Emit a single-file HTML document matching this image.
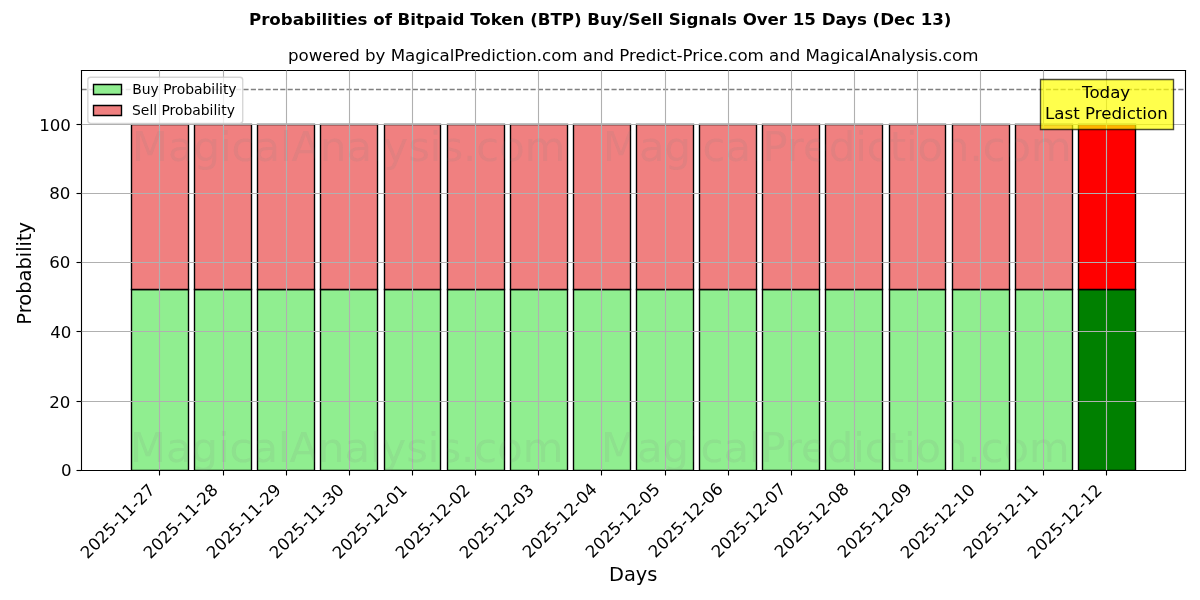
<!DOCTYPE html>
<html><head><meta charset="utf-8"><title>Probabilities of Bitpaid Token (BTP) Buy/Sell Signals</title>
<style>html,body{margin:0;padding:0;background:#fff;width:1200px;height:600px;overflow:hidden}svg{display:block;will-change:transform}</style>
</head><body>
<svg width="1200" height="600" viewBox="0 0 864 432">
<defs>
<style type="text/css">*{stroke-linejoin: round; stroke-linecap: butt}</style>
</defs>
<g id="figure_1">
<g id="patch_1">
<path d="M 0 432 L 864 432 L 864 0 L 0 0 z" style="fill: #ffffff"/>
</g>
<g id="axes_1">
<g id="patch_2">
<path d="M 58.32 338.4 L 853.2 338.4 L 853.2 50.4 L 58.32 50.4 z" style="fill: #ffffff"/>
</g>
<g id="patch_3">
<path d="M 94.68 338.76 L 135.72 338.76 L 135.72 208.44 L 94.68 208.44 z" clip-path="url(#pb0aa5b474b)" style="fill: #90ee90; stroke: #000000; stroke-linejoin: miter"/>
</g>
<g id="patch_4">
<path d="M 140.04 338.76 L 181.08 338.76 L 181.08 208.44 L 140.04 208.44 z" clip-path="url(#pb0aa5b474b)" style="fill: #90ee90; stroke: #000000; stroke-linejoin: miter"/>
</g>
<g id="patch_5">
<path d="M 185.4 338.76 L 226.44 338.76 L 226.44 208.44 L 185.4 208.44 z" clip-path="url(#pb0aa5b474b)" style="fill: #90ee90; stroke: #000000; stroke-linejoin: miter"/>
</g>
<g id="patch_6">
<path d="M 230.76 338.76 L 271.8 338.76 L 271.8 208.44 L 230.76 208.44 z" clip-path="url(#pb0aa5b474b)" style="fill: #90ee90; stroke: #000000; stroke-linejoin: miter"/>
</g>
<g id="patch_7">
<path d="M 276.84 338.76 L 317.16 338.76 L 317.16 208.44 L 276.84 208.44 z" clip-path="url(#pb0aa5b474b)" style="fill: #90ee90; stroke: #000000; stroke-linejoin: miter"/>
</g>
<g id="patch_8">
<path d="M 322.2 338.76 L 363.24 338.76 L 363.24 208.44 L 322.2 208.44 z" clip-path="url(#pb0aa5b474b)" style="fill: #90ee90; stroke: #000000; stroke-linejoin: miter"/>
</g>
<g id="patch_9">
<path d="M 367.56 338.76 L 408.6 338.76 L 408.6 208.44 L 367.56 208.44 z" clip-path="url(#pb0aa5b474b)" style="fill: #90ee90; stroke: #000000; stroke-linejoin: miter"/>
</g>
<g id="patch_10">
<path d="M 412.92 338.76 L 453.96 338.76 L 453.96 208.44 L 412.92 208.44 z" clip-path="url(#pb0aa5b474b)" style="fill: #90ee90; stroke: #000000; stroke-linejoin: miter"/>
</g>
<g id="patch_11">
<path d="M 458.28 338.76 L 499.32 338.76 L 499.32 208.44 L 458.28 208.44 z" clip-path="url(#pb0aa5b474b)" style="fill: #90ee90; stroke: #000000; stroke-linejoin: miter"/>
</g>
<g id="patch_12">
<path d="M 503.64 338.76 L 544.68 338.76 L 544.68 208.44 L 503.64 208.44 z" clip-path="url(#pb0aa5b474b)" style="fill: #90ee90; stroke: #000000; stroke-linejoin: miter"/>
</g>
<g id="patch_13">
<path d="M 549 338.76 L 590.04 338.76 L 590.04 208.44 L 549 208.44 z" clip-path="url(#pb0aa5b474b)" style="fill: #90ee90; stroke: #000000; stroke-linejoin: miter"/>
</g>
<g id="patch_14">
<path d="M 594.36 338.76 L 635.4 338.76 L 635.4 208.44 L 594.36 208.44 z" clip-path="url(#pb0aa5b474b)" style="fill: #90ee90; stroke: #000000; stroke-linejoin: miter"/>
</g>
<g id="patch_15">
<path d="M 640.44 338.76 L 680.76 338.76 L 680.76 208.44 L 640.44 208.44 z" clip-path="url(#pb0aa5b474b)" style="fill: #90ee90; stroke: #000000; stroke-linejoin: miter"/>
</g>
<g id="patch_16">
<path d="M 685.8 338.76 L 726.84 338.76 L 726.84 208.44 L 685.8 208.44 z" clip-path="url(#pb0aa5b474b)" style="fill: #90ee90; stroke: #000000; stroke-linejoin: miter"/>
</g>
<g id="patch_17">
<path d="M 731.16 338.76 L 772.2 338.76 L 772.2 208.44 L 731.16 208.44 z" clip-path="url(#pb0aa5b474b)" style="fill: #90ee90; stroke: #000000; stroke-linejoin: miter"/>
</g>
<g id="patch_18">
<path d="M 776.52 338.76 L 817.56 338.76 L 817.56 208.44 L 776.52 208.44 z" clip-path="url(#pb0aa5b474b)" style="fill: #008000; stroke: #000000; stroke-linejoin: miter"/>
</g>
<g id="patch_19">
<path d="M 94.68 208.44 L 135.72 208.44 L 135.72 89.64 L 94.68 89.64 z" clip-path="url(#pb0aa5b474b)" style="fill: #f08080; stroke: #000000; stroke-linejoin: miter"/>
</g>
<g id="patch_20">
<path d="M 140.04 208.44 L 181.08 208.44 L 181.08 89.64 L 140.04 89.64 z" clip-path="url(#pb0aa5b474b)" style="fill: #f08080; stroke: #000000; stroke-linejoin: miter"/>
</g>
<g id="patch_21">
<path d="M 185.4 208.44 L 226.44 208.44 L 226.44 89.64 L 185.4 89.64 z" clip-path="url(#pb0aa5b474b)" style="fill: #f08080; stroke: #000000; stroke-linejoin: miter"/>
</g>
<g id="patch_22">
<path d="M 230.76 208.44 L 271.8 208.44 L 271.8 89.64 L 230.76 89.64 z" clip-path="url(#pb0aa5b474b)" style="fill: #f08080; stroke: #000000; stroke-linejoin: miter"/>
</g>
<g id="patch_23">
<path d="M 276.84 208.44 L 317.16 208.44 L 317.16 89.64 L 276.84 89.64 z" clip-path="url(#pb0aa5b474b)" style="fill: #f08080; stroke: #000000; stroke-linejoin: miter"/>
</g>
<g id="patch_24">
<path d="M 322.2 208.44 L 363.24 208.44 L 363.24 89.64 L 322.2 89.64 z" clip-path="url(#pb0aa5b474b)" style="fill: #f08080; stroke: #000000; stroke-linejoin: miter"/>
</g>
<g id="patch_25">
<path d="M 367.56 208.44 L 408.6 208.44 L 408.6 89.64 L 367.56 89.64 z" clip-path="url(#pb0aa5b474b)" style="fill: #f08080; stroke: #000000; stroke-linejoin: miter"/>
</g>
<g id="patch_26">
<path d="M 412.92 208.44 L 453.96 208.44 L 453.96 89.64 L 412.92 89.64 z" clip-path="url(#pb0aa5b474b)" style="fill: #f08080; stroke: #000000; stroke-linejoin: miter"/>
</g>
<g id="patch_27">
<path d="M 458.28 208.44 L 499.32 208.44 L 499.32 89.64 L 458.28 89.64 z" clip-path="url(#pb0aa5b474b)" style="fill: #f08080; stroke: #000000; stroke-linejoin: miter"/>
</g>
<g id="patch_28">
<path d="M 503.64 208.44 L 544.68 208.44 L 544.68 89.64 L 503.64 89.64 z" clip-path="url(#pb0aa5b474b)" style="fill: #f08080; stroke: #000000; stroke-linejoin: miter"/>
</g>
<g id="patch_29">
<path d="M 549 208.44 L 590.04 208.44 L 590.04 89.64 L 549 89.64 z" clip-path="url(#pb0aa5b474b)" style="fill: #f08080; stroke: #000000; stroke-linejoin: miter"/>
</g>
<g id="patch_30">
<path d="M 594.36 208.44 L 635.4 208.44 L 635.4 89.64 L 594.36 89.64 z" clip-path="url(#pb0aa5b474b)" style="fill: #f08080; stroke: #000000; stroke-linejoin: miter"/>
</g>
<g id="patch_31">
<path d="M 640.44 208.44 L 680.76 208.44 L 680.76 89.64 L 640.44 89.64 z" clip-path="url(#pb0aa5b474b)" style="fill: #f08080; stroke: #000000; stroke-linejoin: miter"/>
</g>
<g id="patch_32">
<path d="M 685.8 208.44 L 726.84 208.44 L 726.84 89.64 L 685.8 89.64 z" clip-path="url(#pb0aa5b474b)" style="fill: #f08080; stroke: #000000; stroke-linejoin: miter"/>
</g>
<g id="patch_33">
<path d="M 731.16 208.44 L 772.2 208.44 L 772.2 89.64 L 731.16 89.64 z" clip-path="url(#pb0aa5b474b)" style="fill: #f08080; stroke: #000000; stroke-linejoin: miter"/>
</g>
<g id="patch_34">
<path d="M 776.52 208.44 L 817.56 208.44 L 817.56 89.64 L 776.52 89.64 z" clip-path="url(#pb0aa5b474b)" style="fill: #ff0000; stroke: #000000; stroke-linejoin: miter"/>
</g>
<g id="line2d_1">
<path d="M 58.68 64.44 L 853.56 64.44" clip-path="url(#pb0aa5b474b)" style="fill: none; stroke-dasharray: 3.7,1.6; stroke-dashoffset: 0; stroke: #808080"/>
</g>
<g id="patch_35">
<path d="M 58.68 338.76 L 58.68 50.76" style="fill: none; stroke: #000000; stroke-width: 0.8; stroke-linejoin: miter; stroke-linecap: square"/>
</g>
<g id="patch_36">
<path d="M 853.56 338.76 L 853.56 50.76" style="fill: none; stroke: #000000; stroke-width: 0.8; stroke-linejoin: miter; stroke-linecap: square"/>
</g>
<g id="patch_37">
<path d="M 58.68 338.76 L 853.56 338.76" style="fill: none; stroke: #000000; stroke-width: 0.8; stroke-linejoin: miter; stroke-linecap: square"/>
</g>
<g id="patch_38">
<path d="M 58.68 50.76 L 853.56 50.76" style="fill: none; stroke: #000000; stroke-width: 0.8; stroke-linejoin: miter; stroke-linecap: square"/>
</g>
<g id="matplotlib.axis_1">
<g id="xtick_1">
<g id="line2d_2">
<path d="M 114.84 338.76 L 114.84 50.76" clip-path="url(#pb0aa5b474b)" style="fill: none; stroke: #b0b0b0; stroke-width: 0.8; stroke-linecap: butt"/>
</g>
<g id="line2d_3">
<defs>
<path id="m1504cfccaf" d="M 0.36 0.36 L 0.36 3.96" style="stroke: #000000; stroke-width: 0.8"/>
</defs>
<g>
<use href="#m1504cfccaf" x="114.48" y="338.4" style="stroke: #000000; stroke-width: 0.8"/>
</g>
</g>
<g id="text_1">
<g transform="translate(-0.72 1.8)"><text style="font-size: 12px; font-family: 'DejaVu Sans', 'Liberation Sans', sans-serif" transform="translate(63.759934 400.986348) rotate(-45)">2025-11-27</text></g>
</g>
</g>
<g id="xtick_2">
<g id="line2d_4">
<path d="M 160.92 338.76 L 160.92 50.76" clip-path="url(#pb0aa5b474b)" style="fill: none; stroke: #b0b0b0; stroke-width: 0.8; stroke-linecap: butt"/>
</g>
<g id="line2d_5">
<g>
<use href="#m1504cfccaf" x="160.56" y="338.4" style="stroke: #000000; stroke-width: 0.8"/>
</g>
</g>
<g id="text_2">
<g transform="translate(-0.9 1.8)"><text style="font-size: 12px; font-family: 'DejaVu Sans', 'Liberation Sans', sans-serif" transform="translate(109.21162 400.986348) rotate(-45)">2025-11-28</text></g>
</g>
</g>
<g id="xtick_3">
<g id="line2d_6">
<path d="M 206.28 338.76 L 206.28 50.76" clip-path="url(#pb0aa5b474b)" style="fill: none; stroke: #b0b0b0; stroke-width: 0.8; stroke-linecap: butt"/>
</g>
<g id="line2d_7">
<g>
<use href="#m1504cfccaf" x="205.92" y="338.4" style="stroke: #000000; stroke-width: 0.8"/>
</g>
</g>
<g id="text_3">
<g transform="translate(-0.9 1.8)"><text style="font-size: 12px; font-family: 'DejaVu Sans', 'Liberation Sans', sans-serif" transform="translate(154.663307 400.986348) rotate(-45)">2025-11-29</text></g>
</g>
</g>
<g id="xtick_4">
<g id="line2d_8">
<path d="M 251.64 338.76 L 251.64 50.76" clip-path="url(#pb0aa5b474b)" style="fill: none; stroke: #b0b0b0; stroke-width: 0.8; stroke-linecap: butt"/>
</g>
<g id="line2d_9">
<g>
<use href="#m1504cfccaf" x="251.28" y="338.4" style="stroke: #000000; stroke-width: 0.8"/>
</g>
</g>
<g id="text_4">
<g transform="translate(-1.08 1.8)"><text style="font-size: 12px; font-family: 'DejaVu Sans', 'Liberation Sans', sans-serif" transform="translate(200.114994 400.986348) rotate(-45)">2025-11-30</text></g>
</g>
</g>
<g id="xtick_5">
<g id="line2d_10">
<path d="M 297 338.76 L 297 50.76" clip-path="url(#pb0aa5b474b)" style="fill: none; stroke: #b0b0b0; stroke-width: 0.8; stroke-linecap: butt"/>
</g>
<g id="line2d_11">
<g>
<use href="#m1504cfccaf" x="296.64" y="338.4" style="stroke: #000000; stroke-width: 0.8"/>
</g>
</g>
<g id="text_5">
<g transform="translate(-1.08 1.98)"><text style="font-size: 12px; font-family: 'DejaVu Sans', 'Liberation Sans', sans-serif" transform="translate(245.56668 400.986348) rotate(-45)">2025-12-01</text></g>
</g>
</g>
<g id="xtick_6">
<g id="line2d_12">
<path d="M 342.36 338.76 L 342.36 50.76" clip-path="url(#pb0aa5b474b)" style="fill: none; stroke: #b0b0b0; stroke-width: 0.8; stroke-linecap: butt"/>
</g>
<g id="line2d_13">
<g>
<use href="#m1504cfccaf" x="342" y="338.4" style="stroke: #000000; stroke-width: 0.8"/>
</g>
</g>
<g id="text_6">
<g transform="translate(-1.26 1.8)"><text style="font-size: 12px; font-family: 'DejaVu Sans', 'Liberation Sans', sans-serif" transform="translate(291.018367 400.986348) rotate(-45)">2025-12-02</text></g>
</g>
</g>
<g id="xtick_7">
<g id="line2d_14">
<path d="M 387.72 338.76 L 387.72 50.76" clip-path="url(#pb0aa5b474b)" style="fill: none; stroke: #b0b0b0; stroke-width: 0.8; stroke-linecap: butt"/>
</g>
<g id="line2d_15">
<g>
<use href="#m1504cfccaf" x="387.36" y="338.4" style="stroke: #000000; stroke-width: 0.8"/>
</g>
</g>
<g id="text_7">
<g transform="translate(-0.54 1.8)"><text style="font-size: 12px; font-family: 'DejaVu Sans', 'Liberation Sans', sans-serif" transform="translate(336.470054 400.986348) rotate(-45)">2025-12-03</text></g>
</g>
</g>
<g id="xtick_8">
<g id="line2d_16">
<path d="M 433.08 338.76 L 433.08 50.76" clip-path="url(#pb0aa5b474b)" style="fill: none; stroke: #b0b0b0; stroke-width: 0.8; stroke-linecap: butt"/>
</g>
<g id="line2d_17">
<g>
<use href="#m1504cfccaf" x="432.72" y="338.4" style="stroke: #000000; stroke-width: 0.8"/>
</g>
</g>
<g id="text_8">
<g transform="translate(-0.72 1.26)"><text style="font-size: 12px; font-family: 'DejaVu Sans', 'Liberation Sans', sans-serif" transform="translate(381.92174 400.986348) rotate(-45)">2025-12-04</text></g>
</g>
</g>
<g id="xtick_9">
<g id="line2d_18">
<path d="M 479.16 338.76 L 479.16 50.76" clip-path="url(#pb0aa5b474b)" style="fill: none; stroke: #b0b0b0; stroke-width: 0.8; stroke-linecap: butt"/>
</g>
<g id="line2d_19">
<g>
<use href="#m1504cfccaf" x="478.8" y="338.4" style="stroke: #000000; stroke-width: 0.8"/>
</g>
</g>
<g id="text_9">
<g transform="translate(-0.72 1.26)"><text style="font-size: 12px; font-family: 'DejaVu Sans', 'Liberation Sans', sans-serif" transform="translate(427.373427 400.986348) rotate(-45)">2025-12-05</text></g>
</g>
</g>
<g id="xtick_10">
<g id="line2d_20">
<path d="M 524.52 338.76 L 524.52 50.76" clip-path="url(#pb0aa5b474b)" style="fill: none; stroke: #b0b0b0; stroke-width: 0.8; stroke-linecap: butt"/>
</g>
<g id="line2d_21">
<g>
<use href="#m1504cfccaf" x="524.16" y="338.4" style="stroke: #000000; stroke-width: 0.8"/>
</g>
</g>
<g id="text_10">
<g transform="translate(-0.9 1.08)"><text style="font-size: 12px; font-family: 'DejaVu Sans', 'Liberation Sans', sans-serif" transform="translate(472.825114 400.986348) rotate(-45)">2025-12-06</text></g>
</g>
</g>
<g id="xtick_11">
<g id="line2d_22">
<path d="M 569.88 338.76 L 569.88 50.76" clip-path="url(#pb0aa5b474b)" style="fill: none; stroke: #b0b0b0; stroke-width: 0.8; stroke-linecap: butt"/>
</g>
<g id="line2d_23">
<g>
<use href="#m1504cfccaf" x="569.52" y="338.4" style="stroke: #000000; stroke-width: 0.8"/>
</g>
</g>
<g id="text_11">
<g transform="translate(-0.9 1.08)"><text style="font-size: 12px; font-family: 'DejaVu Sans', 'Liberation Sans', sans-serif" transform="translate(518.2768 400.986348) rotate(-45)">2025-12-07</text></g>
</g>
</g>
<g id="xtick_12">
<g id="line2d_24">
<path d="M 615.24 338.76 L 615.24 50.76" clip-path="url(#pb0aa5b474b)" style="fill: none; stroke: #b0b0b0; stroke-width: 0.8; stroke-linecap: butt"/>
</g>
<g id="line2d_25">
<g>
<use href="#m1504cfccaf" x="614.88" y="338.4" style="stroke: #000000; stroke-width: 0.8"/>
</g>
</g>
<g id="text_12">
<g transform="translate(-1.08 1.08)"><text style="font-size: 12px; font-family: 'DejaVu Sans', 'Liberation Sans', sans-serif" transform="translate(563.728487 400.986348) rotate(-45)">2025-12-08</text></g>
</g>
</g>
<g id="xtick_13">
<g id="line2d_26">
<path d="M 660.6 338.76 L 660.6 50.76" clip-path="url(#pb0aa5b474b)" style="fill: none; stroke: #b0b0b0; stroke-width: 0.8; stroke-linecap: butt"/>
</g>
<g id="line2d_27">
<g>
<use href="#m1504cfccaf" x="660.24" y="338.4" style="stroke: #000000; stroke-width: 0.8"/>
</g>
</g>
<g id="text_13">
<g transform="translate(-1.08 1.26)"><text style="font-size: 12px; font-family: 'DejaVu Sans', 'Liberation Sans', sans-serif" transform="translate(609.180174 400.986348) rotate(-45)">2025-12-09</text></g>
</g>
</g>
<g id="xtick_14">
<g id="line2d_28">
<path d="M 705.96 338.76 L 705.96 50.76" clip-path="url(#pb0aa5b474b)" style="fill: none; stroke: #b0b0b0; stroke-width: 0.8; stroke-linecap: butt"/>
</g>
<g id="line2d_29">
<g>
<use href="#m1504cfccaf" x="705.6" y="338.4" style="stroke: #000000; stroke-width: 0.8"/>
</g>
</g>
<g id="text_14">
<g transform="translate(-1.26 1.8)"><text style="font-size: 12px; font-family: 'DejaVu Sans', 'Liberation Sans', sans-serif" transform="translate(654.63186 400.986348) rotate(-45)">2025-12-10</text></g>
</g>
</g>
<g id="xtick_15">
<g id="line2d_30">
<path d="M 751.32 338.76 L 751.32 50.76" clip-path="url(#pb0aa5b474b)" style="fill: none; stroke: #b0b0b0; stroke-width: 0.8; stroke-linecap: butt"/>
</g>
<g id="line2d_31">
<g>
<use href="#m1504cfccaf" x="750.96" y="338.4" style="stroke: #000000; stroke-width: 0.8"/>
</g>
</g>
<g id="text_15">
<g transform="translate(-1.26 1.8)"><text style="font-size: 12px; font-family: 'DejaVu Sans', 'Liberation Sans', sans-serif" transform="translate(700.083547 400.986348) rotate(-45)">2025-12-11</text></g>
</g>
</g>
<g id="xtick_16">
<g id="line2d_32">
<path d="M 796.68 338.76 L 796.68 50.76" clip-path="url(#pb0aa5b474b)" style="fill: none; stroke: #b0b0b0; stroke-width: 0.8; stroke-linecap: butt"/>
</g>
<g id="line2d_33">
<g>
<use href="#m1504cfccaf" x="796.32" y="338.4" style="stroke: #000000; stroke-width: 0.8"/>
</g>
</g>
<g id="text_16">
<g transform="translate(-0.72 1.98)"><text style="font-size: 12px; font-family: 'DejaVu Sans', 'Liberation Sans', sans-serif" transform="translate(745.535234 400.986348) rotate(-45)">2025-12-12</text></g>
</g>
</g>
<g id="text_17">
<g transform="translate(0.18 0.72)"><text style="font-size: 14px; font-family: 'DejaVu Sans', 'Liberation Sans', sans-serif; text-anchor: middle" x="455.725" y="417.388834" transform="rotate(-0 455.725 417.388834)">Days</text></g>
</g>
</g>
<g id="matplotlib.axis_2">
<g id="ytick_1">
<g id="line2d_34">
<path d="M 58.68 338.76 L 853.56 338.76" clip-path="url(#pb0aa5b474b)" style="fill: none; stroke: #b0b0b0; stroke-width: 0.8; stroke-linecap: butt"/>
</g>
<g id="line2d_35">
<defs>
<path id="m5d545ce8f8" d="M 0.36 0.36 L -3.24 0.36" style="stroke: #000000; stroke-width: 0.8"/>
</defs>
<g>
<use href="#m5d545ce8f8" x="58.32" y="338.4" style="stroke: #000000; stroke-width: 0.8"/>
</g>
</g>
<g id="text_18">
<g transform="translate(0.36 -0.36)"><text style="font-size: 12px; font-family: 'DejaVu Sans', 'Liberation Sans', sans-serif; text-anchor: end" x="51.25" y="342.785179" transform="rotate(-0 51.25 342.785179)">0</text></g>
</g>
</g>
<g id="ytick_2">
<g id="line2d_36">
<path d="M 58.68 289.08 L 853.56 289.08" clip-path="url(#pb0aa5b474b)" style="fill: none; stroke: #b0b0b0; stroke-width: 0.8; stroke-linecap: butt"/>
</g>
<g id="line2d_37">
<g>
<use href="#m5d545ce8f8" x="58.32" y="288.72" style="stroke: #000000; stroke-width: 0.8"/>
</g>
</g>
<g id="text_19">
<g transform="translate(-0.54 0.54)"><text style="font-size: 12px; font-family: 'DejaVu Sans', 'Liberation Sans', sans-serif; text-anchor: end" x="51.25" y="292.986718" transform="rotate(-0 51.25 292.986718)">20</text></g>
</g>
</g>
<g id="ytick_3">
<g id="line2d_38">
<path d="M 58.68 238.68 L 853.56 238.68" clip-path="url(#pb0aa5b474b)" style="fill: none; stroke: #b0b0b0; stroke-width: 0.8; stroke-linecap: butt"/>
</g>
<g id="line2d_39">
<g>
<use href="#m5d545ce8f8" x="58.32" y="238.32" style="stroke: #000000; stroke-width: 0.8"/>
</g>
</g>
<g id="text_20">
<g transform="translate(0.18 -0.18)"><text style="font-size: 12px; font-family: 'DejaVu Sans', 'Liberation Sans', sans-serif; text-anchor: end" x="51.25" y="243.188256" transform="rotate(-0 51.25 243.188256)">40</text></g>
</g>
</g>
<g id="ytick_4">
<g id="line2d_40">
<path d="M 58.68 189 L 853.56 189" clip-path="url(#pb0aa5b474b)" style="fill: none; stroke: #b0b0b0; stroke-width: 0.8; stroke-linecap: butt"/>
</g>
<g id="line2d_41">
<g>
<use href="#m5d545ce8f8" x="58.32" y="188.64" style="stroke: #000000; stroke-width: 0.8"/>
</g>
</g>
<g id="text_21">
<g transform="translate(-0.54 -0.54)"><text style="font-size: 12px; font-family: 'DejaVu Sans', 'Liberation Sans', sans-serif; text-anchor: end" x="51.25" y="193.389794" transform="rotate(-0 51.25 193.389794)">60</text></g>
</g>
</g>
<g id="ytick_5">
<g id="line2d_42">
<path d="M 58.68 139.32 L 853.56 139.32" clip-path="url(#pb0aa5b474b)" style="fill: none; stroke: #b0b0b0; stroke-width: 0.8; stroke-linecap: butt"/>
</g>
<g id="line2d_43">
<g>
<use href="#m5d545ce8f8" x="58.32" y="138.96" style="stroke: #000000; stroke-width: 0.8"/>
</g>
</g>
<g id="text_22">
<g transform="translate(-0.54 -0.36)"><text style="font-size: 12px; font-family: 'DejaVu Sans', 'Liberation Sans', sans-serif; text-anchor: end" x="51.25" y="143.591332" transform="rotate(-0 51.25 143.591332)">80</text></g>
</g>
</g>
<g id="ytick_6">
<g id="line2d_44">
<path d="M 58.68 89.64 L 853.56 89.64" clip-path="url(#pb0aa5b474b)" style="fill: none; stroke: #b0b0b0; stroke-width: 0.8; stroke-linecap: butt"/>
</g>
<g id="line2d_45">
<g>
<use href="#m5d545ce8f8" x="58.32" y="89.28" style="stroke: #000000; stroke-width: 0.8"/>
</g>
</g>
<g id="text_23">
<g transform="translate(-0.18 0.36)"><text style="font-size: 12px; font-family: 'DejaVu Sans', 'Liberation Sans', sans-serif; text-anchor: end" x="51.25" y="93.79287" transform="rotate(-0 51.25 93.79287)">100</text></g>
</g>
</g>
<g id="text_24">
<g transform="translate(0.54 2.34)"><text style="font-size: 14px; font-family: 'DejaVu Sans', 'Liberation Sans', sans-serif; text-anchor: middle" x="21.433438" y="194.433058" transform="rotate(-90 21.433438 194.433058)">Probability</text></g>
</g>
</g>
<g id="text_25">
<g id="patch_39">
<path d="M 749.16 93.24 L 844.92 93.24 L 844.92 57.24 L 749.16 57.24 z" style="fill: #ffff00; fill-opacity: 0.7; stroke-opacity: 0.7; stroke: #000000; stroke-linejoin: miter"/>
</g>
<g transform="translate(-0.18 -0.36)"><text style="font-size: 12px; font-family: 'DejaVu Sans', 'Liberation Sans', sans-serif" transform="translate(779.259525 70.886832)">Today</text></g>
<g transform="translate(0 1.08)"><text style="font-size: 12px; font-family: 'DejaVu Sans', 'Liberation Sans', sans-serif" transform="translate(752.4039 84.324207)">Last Prediction</text></g>
</g>
<g id="text_26">
<text clip-path="url(#barsclip)" style="font-size: 30px; font-family: 'DejaVu Sans', 'Liberation Sans', sans-serif; text-anchor: start; fill: #808080; opacity: 0.12" x="95.04" y="115.92" transform="rotate(-0 95.04 115.92)">MagicalAnalysis.com</text>
</g>
<g id="text_27">
<text clip-path="url(#barsclip)" style="font-size: 30px; font-family: 'DejaVu Sans', 'Liberation Sans', sans-serif; text-anchor: start; fill: #808080; opacity: 0.12" x="434.16" y="115.92" transform="rotate(-0 434.16 115.92)">MagicalPrediction.com</text>
</g>
<g id="text_28">
<text clip-path="url(#barsclip)" style="font-size: 30px; font-family: 'DejaVu Sans', 'Liberation Sans', sans-serif; text-anchor: start; fill: #808080; opacity: 0.12" x="93.6" y="332.64" transform="rotate(-0 93.6 332.64)">MagicalAnalysis.com</text>
</g>
<g id="text_29">
<text clip-path="url(#barsclip)" style="font-size: 30px; font-family: 'DejaVu Sans', 'Liberation Sans', sans-serif; text-anchor: start; fill: #808080; opacity: 0.12" x="432.72" y="332.64" transform="rotate(-0 432.72 332.64)">MagicalPrediction.com</text>
</g>
<g id="text_30">
<g transform="translate(0.18 -0.9)"><text textLength="497.0384" lengthAdjust="spacing" style="font-size: 12px; font-family: 'DejaVu Sans', 'Liberation Sans', sans-serif; text-anchor: middle" x="455.725" y="44.64" transform="rotate(-0 455.725 44.64)">powered by MagicalPrediction.com and Predict-Price.com and MagicalAnalysis.com</text></g>
</g>
<g id="legend_1">
<g id="patch_40">
<path d="M 65.250000 88.800000 L 172.760000 88.800000 Q 174.760000 88.800000 174.760000 86.800000 L 174.760000 57.640000 Q 174.760000 55.640000 172.760000 55.640000 L 65.250000 55.640000 Q 63.250000 55.640000 63.250000 57.640000 L 63.250000 86.800000 Q 63.250000 88.800000 65.250000 88.800000 z" style="fill: #ffffff; fill-opacity: 0.8; stroke-opacity: 0.8; stroke: #cccccc; stroke-linejoin: miter"/>
</g>
<g id="patch_41">
<path d="M 67.32 68.04 L 87.48 68.04 L 87.48 60.84 L 67.32 60.84 z" style="fill: #90ee90; stroke: #000000; stroke-linejoin: miter"/>
</g>
<g id="text_31">
<g transform="translate(0 0.18)"><text style="font-size: 10px; font-family: 'DejaVu Sans', 'Liberation Sans', sans-serif; text-anchor: start" x="95.25" y="67.238437" transform="rotate(-0 95.25 67.238437)">Buy Probability</text></g>
</g>
<g id="patch_42">
<path d="M 67.32 83.16 L 87.48 83.16 L 87.48 75.96 L 67.32 75.96 z" style="fill: #f08080; stroke: #000000; stroke-linejoin: miter"/>
</g>
<g id="text_32">
<g transform="translate(-0.18 0.54)"><text style="font-size: 10px; font-family: 'DejaVu Sans', 'Liberation Sans', sans-serif; text-anchor: start" x="95.25" y="81.916562" transform="rotate(-0 95.25 81.916562)">Sell Probability</text></g>
</g>
</g>
</g>
<g id="text_33">
<g transform="translate(0.18 0)"><text textLength="505.7525" lengthAdjust="spacing" style="font-weight: 700; font-size: 12px; font-family: 'DejaVu Sans', 'Liberation Sans', sans-serif; text-anchor: middle" x="432" y="17.758125" transform="rotate(-0 432 17.758125)">Probabilities of Bitpaid Token (BTP) Buy/Sell Signals Over 15 Days (Dec 13)</text></g>
</g>
</g>
<defs>
<clipPath id="barsclip"><rect x="94.68" y="208.44" width="41.04" height="130.32"/><rect x="140.04" y="208.44" width="41.04" height="130.32"/><rect x="185.4" y="208.44" width="41.04" height="130.32"/><rect x="230.76" y="208.44" width="41.04" height="130.32"/><rect x="276.84" y="208.44" width="40.32" height="130.32"/><rect x="322.2" y="208.44" width="41.04" height="130.32"/><rect x="367.56" y="208.44" width="41.04" height="130.32"/><rect x="412.92" y="208.44" width="41.04" height="130.32"/><rect x="458.28" y="208.44" width="41.04" height="130.32"/><rect x="503.64" y="208.44" width="41.04" height="130.32"/><rect x="549" y="208.44" width="41.04" height="130.32"/><rect x="594.36" y="208.44" width="41.04" height="130.32"/><rect x="640.44" y="208.44" width="40.32" height="130.32"/><rect x="685.8" y="208.44" width="41.04" height="130.32"/><rect x="731.16" y="208.44" width="41.04" height="130.32"/><rect x="776.52" y="208.44" width="41.04" height="130.32"/><rect x="94.68" y="89.64" width="41.04" height="118.8"/><rect x="140.04" y="89.64" width="41.04" height="118.8"/><rect x="185.4" y="89.64" width="41.04" height="118.8"/><rect x="230.76" y="89.64" width="41.04" height="118.8"/><rect x="276.84" y="89.64" width="40.32" height="118.8"/><rect x="322.2" y="89.64" width="41.04" height="118.8"/><rect x="367.56" y="89.64" width="41.04" height="118.8"/><rect x="412.92" y="89.64" width="41.04" height="118.8"/><rect x="458.28" y="89.64" width="41.04" height="118.8"/><rect x="503.64" y="89.64" width="41.04" height="118.8"/><rect x="549" y="89.64" width="41.04" height="118.8"/><rect x="594.36" y="89.64" width="41.04" height="118.8"/><rect x="640.44" y="89.64" width="40.32" height="118.8"/><rect x="685.8" y="89.64" width="41.04" height="118.8"/><rect x="731.16" y="89.64" width="41.04" height="118.8"/><rect x="776.52" y="89.64" width="41.04" height="118.8"/></clipPath>
<clipPath id="pb0aa5b474b">
<rect x="58.32" y="50.4" width="794.88" height="288"/>
</clipPath>
</defs>
</svg>

</body></html>
